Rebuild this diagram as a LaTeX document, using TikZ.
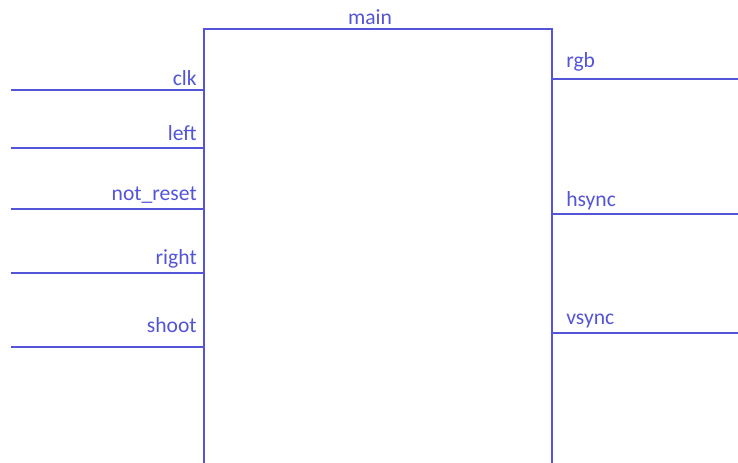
\documentclass[tikz,border=0pt]{standalone}
\usepackage{fontspec}
\setmainfont{Carlito}
\usetikzlibrary{positioning}
\definecolor{portblue}{HTML}{5454D8}
\tikzset{
    wire/.style={draw=portblue, line width=1.5pt},
    portlabel/.style={text=portblue, font=\fontsize{16.2}{19}\selectfont, inner sep=0pt}
}

\begin{document}
\begin{tikzpicture}[x=0.75pt, y=-0.75pt]
    \useasboundingbox (0,0) rectangle (738,463);
    \clip (0,0) rectangle (738,463);
    % block outline (runs off the bottom)
    \coordinate (bl) at (204,480);
    \coordinate (tl) at (204,29);
    \coordinate (tr) at (552,29);
    \coordinate (br) at (552,480);
    \draw[wire] (bl) -- (tl) -- (tr) -- (br);
    \node[portlabel, anchor=base] (main) at (370,25) {main};
    % inputs
    \foreach \i/\txt/\y/\b in {1/clk/90/86, 2/left/148/141, 3/not\_reset/209/201, 4/right/273/264, 5/shoot/347/332} {
        \coordinate (in\i) at (11,\y);
        \coordinate (pin\i) at (204,\y);
        \draw[wire] (in\i) -- (pin\i);
        \node[portlabel, anchor=base east] (lbl\i) at (197,\b) {\txt};
    }
    % outputs
    \foreach \i/\txt/\y/\b in {1/rgb/79/68, 2/hsync/214/207, 3/vsync/333/324} {
        \coordinate (pout\i) at (552,\y);
        \coordinate (out\i) at (738,\y);
        \draw[wire] (pout\i) -- (out\i);
        \node[portlabel, anchor=base west] (olbl\i) at (566,\b) {\txt};
    }
\end{tikzpicture}
\end{document}
